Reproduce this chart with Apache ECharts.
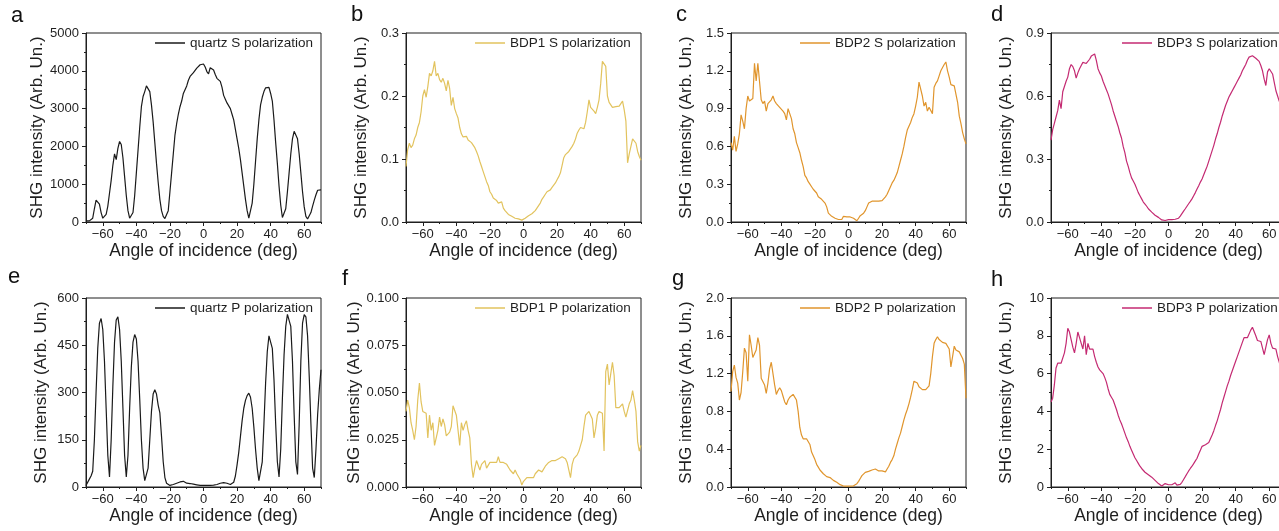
<!DOCTYPE html>
<html>
<head>
<meta charset="utf-8">
<script src="https://cdn.jsdelivr.net/npm/echarts@6/dist/echarts.min.js"></script>
<style>
  html, body { margin: 0; padding: 0; background: #ffffff; }
  #chart { width: 1279px; height: 531px; }
</style>
</head>
<body>
<div id="chart"></div>
<script>
// Angle of incidence samples, -70 … 70 deg in 1 deg steps
const ANGLES = Array.from({ length: 141 }, (_, i) => i - 70);

// SHG intensity versus angle, one array per sample / polarization
const QUARTZ_S = [
  30, 30, 30, 40, 100, 350, 580, 600, 470, 250,
  100, 80, 200, 420, 760, 1100, 1500, 1800, 1650, 1950,
  2130, 2050, 1700, 1200, 700, 300, 100, 60, 250, 700,
  1300, 1900, 2500, 3050, 3320, 3450, 3600, 3580, 3450, 3100,
  2650, 2100, 1550, 1050, 600, 300, 150, 90, 100, 300,
  800, 1300, 1800, 2300, 2600, 2850, 3050, 3200, 3400, 3500,
  3600, 3750, 3850, 3900, 3950, 4000, 4070, 4120, 4160, 4120,
  4180, 4100, 3980, 3920, 4080, 4050, 4020, 3900, 3800, 3770,
  3720, 3570, 3350, 3250, 3150, 3100, 3000, 2850, 2700, 2450,
  2200, 1950, 1650, 1300, 950, 600, 300, 100, 150, 500,
  1000, 1600, 2200, 2700, 3100, 3300, 3450, 3550, 3600, 3560,
  3400, 3200, 2700, 2100, 1550, 950, 450, 120, 100, 350,
  800, 1300, 1800, 2200, 2400, 2370, 2200, 1800, 1300, 800,
  400, 150, 80, 100, 250, 420, 580, 720, 840, 860,
  850
];
const BDP1_S = [
  0.088, 0.115, 0.125, 0.118, 0.122, 0.132, 0.138, 0.150, 0.158, 0.175,
  0.200, 0.210, 0.198, 0.215, 0.236, 0.232, 0.240, 0.255, 0.232, 0.236,
  0.226, 0.222, 0.228, 0.220, 0.208, 0.225, 0.212, 0.185, 0.198, 0.180,
  0.172, 0.165, 0.150, 0.140, 0.135, 0.134, 0.136, 0.130, 0.132, 0.126,
  0.128, 0.118, 0.112, 0.105, 0.096, 0.088, 0.080, 0.072, 0.064, 0.058,
  0.048, 0.044, 0.038, 0.035, 0.034, 0.030, 0.028, 0.032, 0.022, 0.018,
  0.015, 0.012, 0.010, 0.009, 0.008, 0.006, 0.006, 0.005, 0.004, 0.003,
  0.004, 0.006, 0.008, 0.010, 0.012, 0.013, 0.016, 0.018, 0.022, 0.026,
  0.030, 0.036, 0.040, 0.044, 0.048, 0.050, 0.051, 0.055, 0.057, 0.062,
  0.067, 0.072, 0.078, 0.090, 0.102, 0.107, 0.110, 0.112, 0.115, 0.120,
  0.125, 0.132, 0.141, 0.146, 0.150, 0.152, 0.148, 0.158, 0.175, 0.194,
  0.182, 0.183, 0.176, 0.172, 0.182, 0.194, 0.220, 0.255, 0.252, 0.247,
  0.200, 0.190, 0.186, 0.182, 0.184, 0.183, 0.186, 0.184, 0.188, 0.192,
  0.178, 0.160, 0.094, 0.108, 0.120, 0.132, 0.135, 0.125, 0.112, 0.104,
  0.098
];
const BDP2_S = [
  0.63, 0.57, 0.68, 0.56, 0.62, 0.70, 0.85, 0.80, 0.74, 0.90,
  1.00, 0.96, 0.97, 0.98, 1.26, 1.12, 1.26, 1.26, 0.97, 0.94,
  0.96, 0.88, 0.94, 0.93, 0.97, 1.00, 0.96, 0.94, 0.93, 0.91,
  0.90, 0.88, 0.86, 0.81, 0.90, 0.86, 0.82, 0.74, 0.70, 0.63,
  0.59, 0.55, 0.49, 0.44, 0.37, 0.35, 0.32, 0.30, 0.28, 0.26,
  0.25, 0.23, 0.20, 0.19, 0.18, 0.17, 0.15, 0.12, 0.07, 0.06,
  0.045, 0.04, 0.03, 0.025, 0.02, 0.005, 0.02, 0.045, 0.045, 0.04,
  0.045, 0.04, 0.035, 0.03, 0.02, 0.01, 0.03, 0.05, 0.06, 0.07,
  0.09, 0.12, 0.15, 0.165, 0.165, 0.16, 0.165, 0.16, 0.165, 0.17,
  0.17, 0.18, 0.20, 0.22, 0.25, 0.28, 0.31, 0.33, 0.36, 0.39,
  0.44, 0.49, 0.54, 0.60, 0.67, 0.73, 0.76, 0.79, 0.83, 0.86,
  0.92, 0.99, 1.11, 1.12, 1.00, 0.92, 0.95, 0.88, 0.91, 0.92,
  0.86, 1.07, 1.10, 1.12, 1.16, 1.20, 1.21, 1.25, 1.27, 1.20,
  1.15, 1.09, 1.08, 1.08, 1.07, 0.95, 0.84, 0.78, 0.71, 0.66,
  0.62
];
const BDP3_S = [
  0.39, 0.44, 0.47, 0.50, 0.53, 0.58, 0.54, 0.62, 0.645, 0.67,
  0.69, 0.73, 0.75, 0.74, 0.72, 0.685, 0.71, 0.73, 0.745, 0.76,
  0.765, 0.755, 0.76, 0.775, 0.79, 0.795, 0.80, 0.77, 0.73, 0.71,
  0.695, 0.67, 0.65, 0.63, 0.61, 0.585, 0.56, 0.53, 0.505, 0.48,
  0.455, 0.425, 0.40, 0.36, 0.33, 0.29, 0.265, 0.235, 0.21, 0.195,
  0.18, 0.16, 0.14, 0.125, 0.11, 0.095, 0.085, 0.075, 0.063, 0.055,
  0.047, 0.04, 0.032, 0.027, 0.022, 0.016, 0.01, 0.009, 0.007, 0.003,
  0.011, 0.01, 0.011, 0.012, 0.013, 0.015, 0.018, 0.028, 0.04, 0.052,
  0.063, 0.075, 0.087, 0.098, 0.11, 0.125, 0.14, 0.157, 0.173, 0.19,
  0.205, 0.225, 0.245, 0.265, 0.29, 0.315, 0.34, 0.365, 0.395, 0.42,
  0.45, 0.475, 0.505, 0.53, 0.555, 0.575, 0.595, 0.61, 0.625, 0.64,
  0.655, 0.67, 0.685, 0.70, 0.72, 0.735, 0.75, 0.77, 0.785, 0.79,
  0.792, 0.787, 0.78, 0.775, 0.765, 0.745, 0.72, 0.68, 0.65, 0.715,
  0.73, 0.725, 0.705, 0.665, 0.625, 0.60, 0.575, 0.56, 0.55, 0.54,
  0.53
];
const QUARTZ_P = [
  5, 10, 25, 35, 50, 150, 300, 440, 520, 535,
  500, 400, 250, 100, 32, 150, 320, 460, 530, 540,
  500, 400, 250, 100, 32, 100, 250, 380, 460, 484,
  470, 400, 280, 150, 60, 20, 18, 60, 150, 240,
  295, 309, 295, 260, 235, 160, 80, 30, 12, 8,
  5, 6, 8, 10, 12, 14, 16, 18, 18, 14,
  12, 12, 11, 10, 9, 8, 7, 6, 5, 5,
  5, 5, 5, 5, 5, 5, 6, 7, 8, 10,
  12, 13, 14, 13, 12, 10, 8, 8, 15, 35,
  70, 110, 160, 210, 250, 275, 290, 298, 285, 250,
  190, 120, 60, 20, 18, 80, 200, 330, 430, 480,
  484, 440, 340, 200, 80, 32, 120, 280, 420, 510,
  548, 552, 510, 400, 230, 80, 40, 200, 400, 520,
  547, 540, 480, 350, 200, 60, 30, 120, 230, 310,
  372
];
const BDP1_P = [
  0.040, 0.046, 0.042, 0.034, 0.030, 0.025, 0.032, 0.046, 0.055, 0.045,
  0.040, 0.041, 0.039, 0.026, 0.038, 0.030, 0.034, 0.022, 0.026, 0.030,
  0.037, 0.032, 0.036, 0.033, 0.027, 0.026, 0.029, 0.032, 0.043, 0.043,
  0.038, 0.030, 0.022, 0.034, 0.030, 0.033, 0.035, 0.030, 0.026, 0.012,
  0.005, 0.010, 0.014, 0.015, 0.009, 0.012, 0.013, 0.014, 0.010, 0.011,
  0.013, 0.012, 0.013, 0.014, 0.013, 0.016, 0.013, 0.014, 0.013, 0.012,
  0.012, 0.011, 0.009, 0.008, 0.007, 0.009, 0.007, 0.006, 0.004, 0.001,
  0.003, 0.004, 0.005, 0.004, 0.005, 0.006, 0.005, 0.007, 0.007, 0.009,
  0.010, 0.008, 0.008, 0.011, 0.012, 0.013, 0.014, 0.014, 0.015, 0.014,
  0.015, 0.015, 0.015, 0.016, 0.015, 0.015, 0.013, 0.012, 0.005, 0.012,
  0.015, 0.016, 0.017, 0.019, 0.022, 0.025, 0.032, 0.038, 0.039, 0.040,
  0.038, 0.036, 0.026, 0.031, 0.038, 0.040, 0.040, 0.039, 0.019, 0.061,
  0.065, 0.054, 0.060, 0.066, 0.059, 0.042, 0.041, 0.042, 0.041, 0.044,
  0.040, 0.037, 0.038, 0.044, 0.046, 0.051, 0.046, 0.040, 0.024, 0.019,
  0.022
];
const BDP2_P = [
  1.01, 1.22, 1.29, 1.16, 1.10, 0.92, 1.00, 1.22, 1.47, 1.42,
  1.12, 1.61, 1.50, 1.37, 1.36, 1.45, 1.58, 1.50, 1.15, 1.16,
  1.08, 0.99, 1.10, 1.25, 1.32, 1.31, 1.08, 0.98, 1.02, 1.05,
  1.02, 0.96, 0.90, 0.87, 0.92, 0.95, 0.97, 0.98, 0.96, 0.92,
  0.80, 0.63, 0.55, 0.51, 0.52, 0.51, 0.50, 0.45, 0.37, 0.33,
  0.29, 0.24, 0.21, 0.18, 0.16, 0.14, 0.12, 0.11, 0.11, 0.10,
  0.09, 0.07, 0.06, 0.05, 0.04, 0.025, 0.015, 0.01, 0.007, 0.01,
  0.008, 0.01, 0.01, 0.012, 0.02, 0.035, 0.06, 0.09, 0.12, 0.14,
  0.155, 0.16, 0.165, 0.17, 0.18, 0.18, 0.19, 0.18, 0.17, 0.17,
  0.17, 0.165, 0.16, 0.19, 0.22, 0.26, 0.29, 0.33, 0.40, 0.46,
  0.52, 0.57, 0.64, 0.71, 0.77, 0.82, 0.88, 0.95, 1.03, 1.12,
  1.12, 1.10, 1.06, 1.04, 1.03, 1.03, 1.03, 1.04, 1.07, 1.20,
  1.38, 1.52, 1.56, 1.59, 1.56, 1.54, 1.53, 1.52, 1.52, 1.51,
  1.46, 1.27, 1.38, 1.49, 1.45, 1.44, 1.43, 1.42, 1.36, 1.30,
  0.94
];
const BDP3_P = [
  4.5, 4.7, 5.4, 6.3, 6.55, 6.5, 6.55, 6.55, 7.1, 7.6,
  8.4, 8.2, 7.8, 7.4, 7.1, 7.6, 8.2, 7.9, 7.6, 7.3,
  8.0, 7.0, 7.6, 7.3, 7.4, 7.3, 6.9, 6.6, 6.35, 6.2,
  6.1, 6.0, 5.8, 5.55, 5.2, 4.9, 4.75, 4.6, 4.35, 4.1,
  3.8, 3.55, 3.35, 3.1, 2.85, 2.6, 2.4, 2.15, 1.95, 1.75,
  1.55, 1.4, 1.25, 1.1, 0.98, 0.88, 0.78, 0.72, 0.65, 0.6,
  0.52, 0.45, 0.35, 0.26, 0.18, 0.1, 0.05, 0.12, 0.18, 0.1,
  0.12, 0.18, 0.12, 0.1, 0.22, 0.1, 0.09, 0.14, 0.25, 0.4,
  0.55, 0.7, 0.85, 0.98, 1.1, 1.24, 1.38, 1.52, 1.75, 1.95,
  2.15, 2.24, 2.24, 2.25, 2.35, 2.55, 2.75, 2.98, 3.25, 3.5,
  3.8, 4.1, 4.45, 4.75, 5.05, 5.35, 5.6, 5.9, 6.15, 6.4,
  6.65, 6.9, 7.15, 7.4, 7.65, 7.9, 8.0, 7.9, 8.0, 8.3,
  8.45, 8.4, 8.0, 7.75, 7.7, 7.7, 7.6, 7.0, 7.4, 7.8,
  8.05, 7.6, 7.35, 7.4, 7.3, 6.9, 6.6, 6.3, 6.1, 6.0,
  5.9
];

// Legend names and panel letters
const SERIES_NAMES = [
  'quartz S polarization', 'BDP1 S polarization', 'BDP2 S polarization', 'BDP3 S polarization',
  'quartz P polarization', 'BDP1 P polarization', 'BDP2 P polarization', 'BDP3 P polarization'
];
const PANEL_LETTERS = ['a', 'b', 'c', 'd', 'e', 'f', 'g', 'h'];

// Tick labels
const X_MAJOR_TICKS = [-60, -40, -20, 0, 20, 40, 60];
const X_MINOR_TICKS = [-70, -50, -30, -10, 10, 30, 50, 70];
const Y_TICKS = [
  ['0', '1000', '2000', '3000', '4000', '5000'],
  ['0.0', '0.1', '0.2', '0.3'],
  ['0.0', '0.3', '0.6', '0.9', '1.2', '1.5'],
  ['0.0', '0.3', '0.6', '0.9'],
  ['0', '150', '300', '450', '600'],
  ['0.000', '0.025', '0.050', '0.075', '0.100'],
  ['0.0', '0.4', '0.8', '1.2', '1.6', '2.0'],
  ['0', '2', '4', '6', '8', '10']
];
const X_TITLE = 'Angle of incidence (deg)';
const Y_TITLE = 'SHG intensity (Arb. Un.)';

const SERIES_VALUES = [QUARTZ_S, BDP1_S, BDP2_S, BDP3_S, QUARTZ_P, BDP1_P, BDP2_P, BDP3_P];

// ---- styling & layout ----
const FONT = "'Liberation Sans', Arial, Helvetica, sans-serif";
const INK = '#1f1f1f';
const COLORS = ['#1a1a1a', '#e2c35e', '#e0952d', '#c42a72', '#1a1a1a', '#e2c35e', '#e0952d', '#c42a72'];
const COL_LEFT = [86, 406, 731, 1051];
const ROW_TOP = [33, 298];
const PLOT_W = 235, PLOT_H = 189;
const LEGEND_LEFT = [155, 475, 800, 1122];
const LETTER_POS = [[11, 17], [351, 16], [676, 16], [991, 16], [8, 278], [342, 280], [672, 280], [991, 281]];

function signed(v) {
  return v < 0 ? '\u2212' + Math.abs(v) : String(v);
}

const grids = [], xAxes = [], yAxes = [], series = [], legends = [], graphics = [];

for (let i = 0; i < 8; i++) {
  const col = i % 4, row = Math.floor(i / 4);
  const left = COL_LEFT[col], top = ROW_TOP[row];
  const ticks = Y_TICKS[i];
  const tickNums = ticks.map(Number);
  const yMin = tickNums[0], yMax = tickNums[tickNums.length - 1];
  const yStep = tickNums[1] - tickNums[0];

  grids.push({
    left: left, top: top, width: PLOT_W, height: PLOT_H,
    show: true, borderColor: INK, borderWidth: 1, backgroundColor: 'transparent',
    containLabel: false, outerBoundsMode: 'none'
  });

  // main x axis: labels and major ticks
  xAxes.push({
    type: 'value', gridIndex: i, position: 'bottom', min: -70, max: 70,
    axisLine: { show: true, onZero: false, lineStyle: { color: INK, width: 1 } },
    axisTick: { show: true, length: 4, customValues: X_MAJOR_TICKS, lineStyle: { color: INK, width: 1 } },
    axisLabel: { customValues: X_MAJOR_TICKS, formatter: signed, margin: 6, fontSize: 13, color: INK, fontFamily: FONT },
    splitLine: { show: false },
    name: X_TITLE, nameLocation: 'middle', nameGap: 19,
    nameTextStyle: { fontSize: 17.5, color: INK, fontFamily: FONT }
  });
  // companion x axis carrying the minor ticks
  xAxes.push({
    type: 'value', gridIndex: i, position: 'bottom', offset: 0, min: -70, max: 70,
    axisLine: { show: true, onZero: false, lineStyle: { color: INK, width: 1, opacity: 0 } },
    axisTick: { show: true, length: 2, customValues: X_MINOR_TICKS, lineStyle: { color: INK, width: 1 } },
    axisLabel: { show: true, customValues: X_MINOR_TICKS, formatter: () => '' },
    splitLine: { show: false }
  });

  yAxes.push({
    type: 'value', gridIndex: i, min: yMin, max: yMax, interval: yStep,
    axisLine: { show: true, onZero: false, lineStyle: { color: INK, width: 1 } },
    axisTick: { show: true, length: 4, lineStyle: { color: INK, width: 1 } },
    minorTick: { show: true, splitNumber: 2, length: 2, lineStyle: { color: INK, width: 1 } },
    axisLabel: {
      margin: 7, fontSize: 13, color: INK, fontFamily: FONT,
      formatter: function (v) {
        let best = 0;
        for (let k = 1; k < tickNums.length; k++) {
          if (Math.abs(tickNums[k] - v) < Math.abs(tickNums[best] - v)) best = k;
        }
        return ticks[best];
      }
    },
    splitLine: { show: false },
    name: Y_TITLE, nameLocation: 'middle', nameGap: 36, nameRotate: 90,
    nameTextStyle: { fontSize: 17, color: INK, fontFamily: FONT }
  });

  series.push({
    type: 'line', name: SERIES_NAMES[i],
    xAxisIndex: 2 * i, yAxisIndex: i,
    data: ANGLES.map((a, k) => [a, SERIES_VALUES[i][k]]),
    showSymbol: false, symbol: 'none',
    lineStyle: { color: COLORS[i], width: 1.2 },
    itemStyle: { color: COLORS[i] },
    emphasis: { disabled: true },
    animation: false
  });

  legends.push({
    data: [SERIES_NAMES[i]],
    left: LEGEND_LEFT[col], top: top + 3,
    padding: 0, icon: 'rect', itemWidth: 30, itemHeight: 1.5,
    textStyle: { fontSize: 13.5, color: INK, fontFamily: FONT },
    selectedMode: false
  });

  graphics.push({
    type: 'text', left: LETTER_POS[i][0], top: LETTER_POS[i][1] - 12,
    style: { text: PANEL_LETTERS[i], fontSize: 22, fontFamily: FONT, fill: '#111' }
  });
}

const chart = echarts.init(document.getElementById('chart'), null, { renderer: 'canvas' });
chart.setOption({
  backgroundColor: '#ffffff',
  animation: false,
  grid: grids,
  xAxis: xAxes,
  yAxis: yAxes,
  legend: legends,
  series: series,
  graphic: graphics
});
</script>
</body>
</html>
